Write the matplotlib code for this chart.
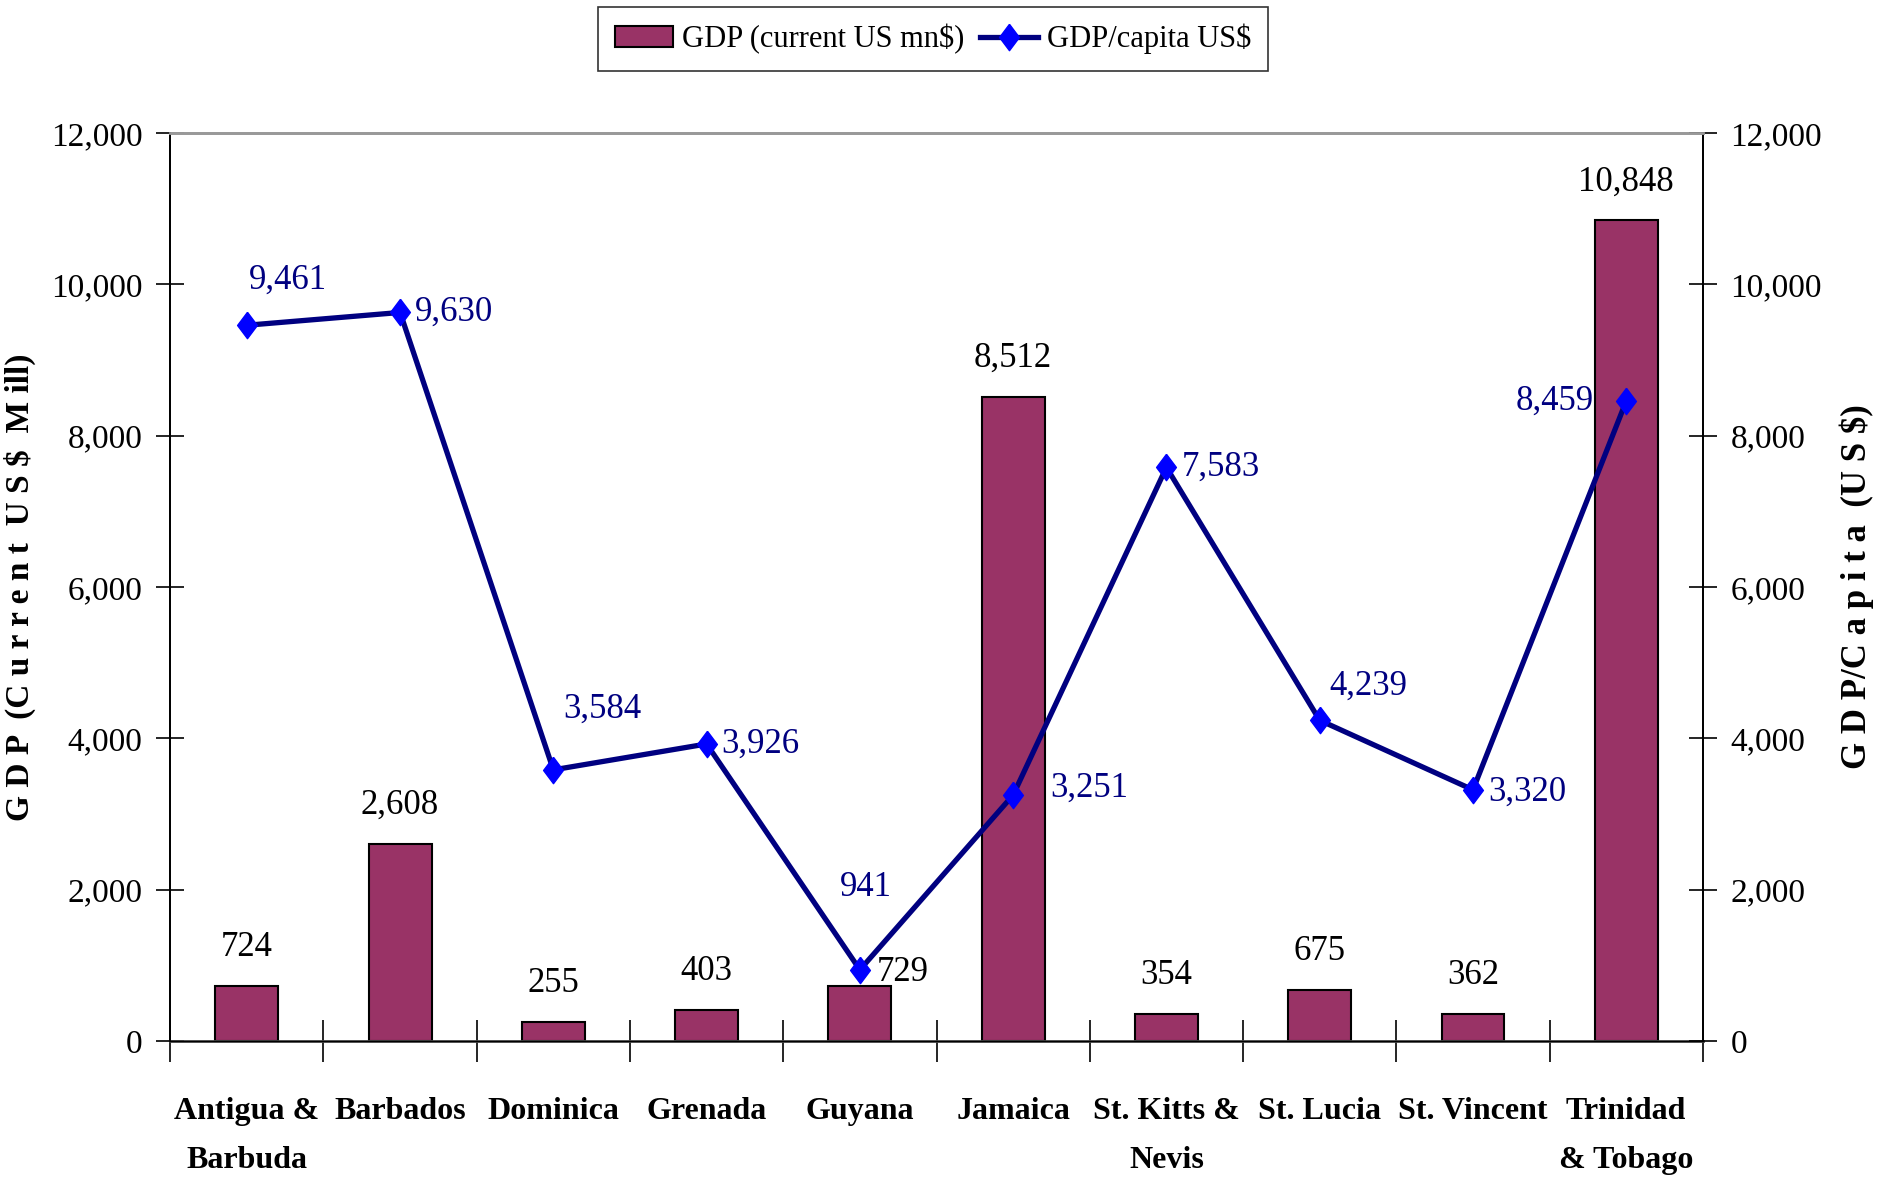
import matplotlib
matplotlib.use("Agg")
import matplotlib.pyplot as plt
from matplotlib.ticker import FuncFormatter, FixedLocator

plt.rcParams['font.family'] = ['Liberation Serif', 'DejaVu Serif']

countries = ["Antigua &\nBarbuda", "Barbados", "Dominica", "Grenada", "Guyana",
             "Jamaica", "St. Kitts &\nNevis", "St. Lucia", "St. Vincent", "Trinidad\n& Tobago"]
gdp = [724, 2608, 255, 403, 729, 8512, 354, 675, 362, 10848]
gdp_pc = [9461, 9630, 3584, 3926, 941, 3251, 7583, 4239, 3320, 8459]
yticks = [0, 2000, 4000, 6000, 8000, 10000, 12000]

# label offsets (pixels) – styling only
pc_offsets = [(41, 45), (54, 0), (49, 61), (54, 0), (6, 82),
              (76, 7), (54, 0), (49, 34), (54, -2), (-72, 0)]
bar_offsets = [(0, 0)] * 4 + [(43, -25)] + [(0, 0)] * 5

fig = plt.figure(figsize=(18.91, 11.89), dpi=100)
ax = fig.add_axes([0.090, 0.1245, 0.8105, 0.7635])
ax2 = ax.twinx()

x = list(range(len(countries)))
bars = ax.bar(x, gdp, width=0.41, color='#993366', edgecolor='black', linewidth=1.5, zorder=2)
ax.set_xlim(-0.5, len(countries) - 0.5)
ax.set_ylim(0, 12000)
ax2.set_ylim(0, 12000)

fmt = FuncFormatter(lambda v, p: f"{int(v):,}")
for a in (ax, ax2):
    a.yaxis.set_major_locator(FixedLocator(yticks))
    a.yaxis.set_major_formatter(fmt)
    a.tick_params(axis='y', direction='inout', length=20, width=1.2, labelsize=24, pad=10)

ax.set_xticks(x)
ax.set_xticklabels(countries, fontsize=23, fontweight='bold', linespacing=1.95)
ax.tick_params(axis='x', length=0, pad=40)
ax.set_xticks([i - 0.5 for i in range(len(countries) + 1)], minor=True)
ax.tick_params(axis='x', which='minor', direction='inout', length=30, width=1.2)

for a in (ax, ax2):
    a.spines['top'].set_color('#999999')
    a.spines['top'].set_linewidth(2)
    a.spines['left'].set_linewidth(1.3)
    a.spines['right'].set_linewidth(1.3)
ax.spines['bottom'].set_color('#444444')
ax.spines['bottom'].set_linewidth(2)

for xi, v, off in zip(x, gdp, bar_offsets):
    ax.annotate(f"{v:,}", (xi, v), xytext=(off[0], 22 + off[1]), textcoords='offset pixels',
                ha='center', va='bottom', fontsize=25, color='black')

diamond = [(0, 1), (0.75, 0), (0, -1), (-0.75, 0), (0, 1)]
line, = ax2.plot(x, gdp_pc, color='#000080', linewidth=3.8, marker=diamond, markersize=19,
                 markerfacecolor='#0000FF', markeredgecolor='#0000FF', zorder=3)
for xi, v, off in zip(x, gdp_pc, pc_offsets):
    ax2.annotate(f"{v:,}", (xi, v), xytext=off, textcoords='offset pixels',
                 ha='center', va='center', fontsize=25, color='#000080')

ax.set_ylabel("G D P  (C u r r e n t  U S $  M ill)", fontsize=24, fontweight='bold')
ax.yaxis.set_label_coords(-0.0874, 0.5)
ax2.set_ylabel("G D P/C a p i t a  (U S $)", fontsize=25, fontweight='bold', rotation=90)
ax2.yaxis.set_label_coords(1.089, 0.5)

leg = fig.legend([bars, line], ["GDP (current US mn$)", "GDP/capita US$"], loc='upper center',
                 bbox_to_anchor=(0.4935, 0.994), ncol=2, fontsize=22, frameon=True, fancybox=False,
                 edgecolor='black', handlelength=1.9, handletextpad=0.3, columnspacing=0.5,
                 borderpad=0.55, borderaxespad=0)
leg.get_frame().set_linewidth(1.2)

fig.savefig("out.png", dpi=100)
